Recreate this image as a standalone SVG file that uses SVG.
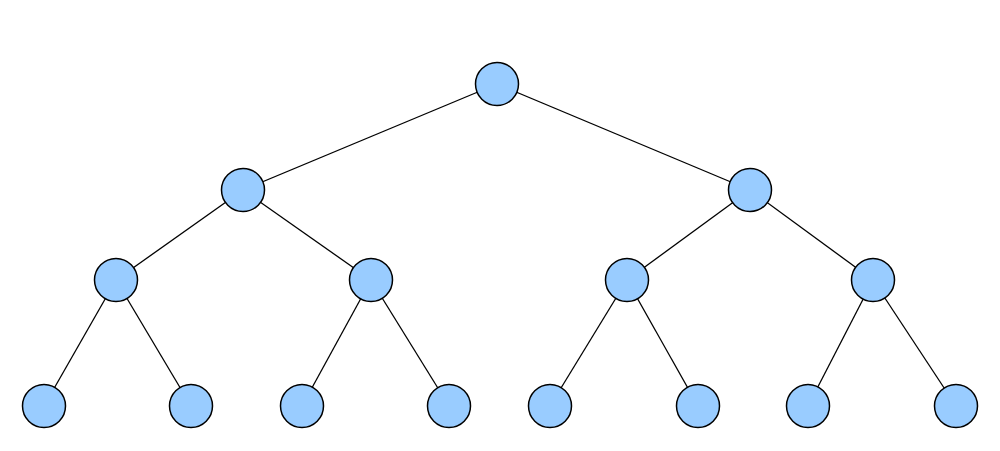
<svg xmlns="http://www.w3.org/2000/svg" width="1000" height="451" viewBox="0 0 1000 451">
  <style>
    .edge { stroke: #000; stroke-width: 1.3; fill: none; }
    .node { fill: #99ccff; stroke: #000; stroke-width: 1.5; }
  </style>
  <rect width="1000" height="451" fill="#fff"/>
  <g id="connectors">
    <line class="edge" x1="497" y1="84" x2="243" y2="190"/>
    <line class="edge" x1="497" y1="84" x2="750" y2="190"/>
    <line class="edge" x1="243" y1="190" x2="116" y2="280"/>
    <line class="edge" x1="243" y1="190" x2="371" y2="280"/>
    <line class="edge" x1="750" y1="190" x2="627" y2="280"/>
    <line class="edge" x1="750" y1="190" x2="873" y2="280"/>
    <line class="edge" x1="116" y1="280" x2="44" y2="406"/>
    <line class="edge" x1="116" y1="280" x2="191" y2="406"/>
    <line class="edge" x1="371" y1="280" x2="302" y2="406"/>
    <line class="edge" x1="371" y1="280" x2="449" y2="406"/>
    <line class="edge" x1="627" y1="280" x2="550" y2="406"/>
    <line class="edge" x1="627" y1="280" x2="698" y2="406"/>
    <line class="edge" x1="873" y1="280" x2="808" y2="406"/>
    <line class="edge" x1="873" y1="280" x2="956" y2="406"/>
  </g>
  <g id="n1"><circle class="node" cx="497" cy="84" r="21.5"/></g>
  <g id="n2"><circle class="node" cx="243" cy="190" r="21.5"/></g>
  <g id="n3"><circle class="node" cx="750" cy="190" r="21.5"/></g>
  <g id="n4"><circle class="node" cx="116" cy="280" r="21.5"/></g>
  <g id="n5"><circle class="node" cx="371" cy="280" r="21.5"/></g>
  <g id="n6"><circle class="node" cx="627" cy="280" r="21.5"/></g>
  <g id="n7"><circle class="node" cx="873" cy="280" r="21.5"/></g>
  <g id="n8"><circle class="node" cx="44" cy="406" r="21.5"/></g>
  <g id="n9"><circle class="node" cx="191" cy="406" r="21.5"/></g>
  <g id="n10"><circle class="node" cx="302" cy="406" r="21.5"/></g>
  <g id="n11"><circle class="node" cx="449" cy="406" r="21.5"/></g>
  <g id="n12"><circle class="node" cx="550" cy="406" r="21.5"/></g>
  <g id="n13"><circle class="node" cx="698" cy="406" r="21.5"/></g>
  <g id="n14"><circle class="node" cx="808" cy="406" r="21.5"/></g>
  <g id="n15"><circle class="node" cx="956" cy="406" r="21.5"/></g>
</svg>
